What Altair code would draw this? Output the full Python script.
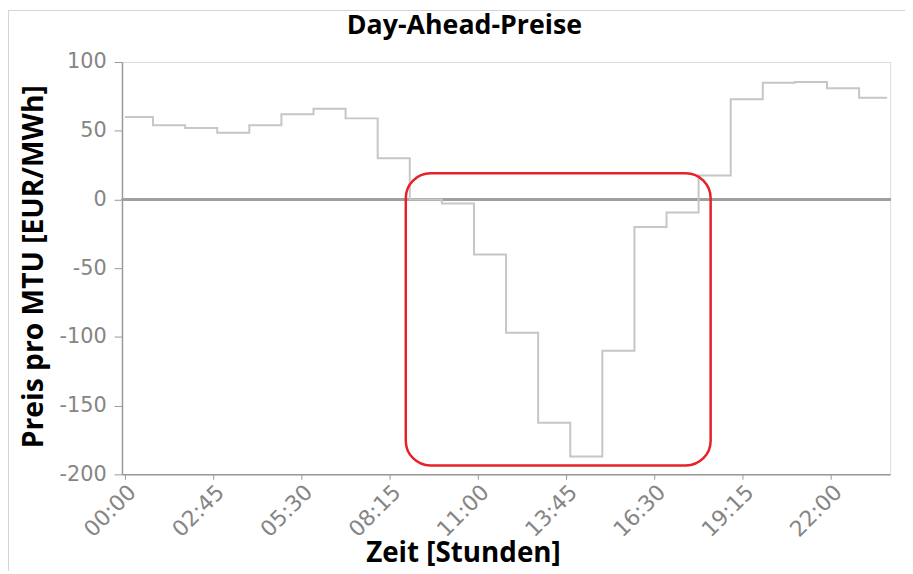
import altair as alt
import pandas as pd

# Hourly day-ahead prices (EUR/MWh), one value per hour 00..23
hourly_prices = [60, 54, 52, 48.5, 54, 62, 66, 59, 30, 0, -3, -40,
                 -97, -162.5, -187, -110, -20, -9.5, 17.5, 73, 85, 85.5, 81, 74]
# quarter-hour MTU labels
minutes = ["00", "15", "30", "45"]
times = [f"{h:02d}:{m}" for h in range(24) for m in minutes]
prices = [p for p in hourly_prices for _ in minutes]
tick_labels = ["00:00", "02:45", "05:30", "08:15", "11:00", "13:45", "16:30", "19:15", "22:00"]
y_ticks = [-200, -150, -100, -50, 0, 50, 100]

# highlight box (annotation)
box_x = ["08:45"]
box_x2 = ["18:15"]
box_top = [19]
box_bottom = [-193.5]

df = pd.DataFrame({"Zeit": times, "Preis": prices})
box_df = pd.DataFrame({"x": box_x, "x2": box_x2, "y": box_top, "y2": box_bottom})

label_font = "DejaVu Sans"
title_font = "Open Sans"

xscale = alt.Scale(type="point", domain=times, padding=0.37)
yscale = alt.Scale(domain=[-200, 100], nice=False, zero=False)

line = alt.Chart(df).mark_line(interpolate="step", color="#c6c6c6", strokeWidth=2).encode(
    x=alt.X("Zeit:O", scale=xscale, sort=times,
            axis=alt.Axis(values=tick_labels, labelAngle=-45, labelFont=label_font,
                          labelFontSize=22, labelColor="#858585", tickColor="#999999",
                          tickSize=5, domainColor="#999999", domainWidth=1.5, grid=False,
                          title="Zeit [Stunden]", titleFont=title_font, titleFontSize=28,
                          titleFontWeight="bold", titleColor="#000000",
                          titleX=344, titleY=88, titleBaseline="alphabetic")),
    y=alt.Y("Preis:Q", scale=yscale,
            axis=alt.Axis(values=y_ticks, labelExpr="toString(datum.value)",
                          labelFont=label_font, labelFontSize=21,
                          labelColor="#858585", tickColor="#999999", tickSize=8,
                          labelPadding=8, domainColor="#999999", domainWidth=1.5,
                          gridColor="#e2e2e2", gridWidth=1.5,
                          title="Preis pro MTU [EUR/MWh]", titleFont=title_font,
                          titleFontSize=28.5, titleFontWeight="bold", titleColor="#000000",
                          titleAngle=-90, titleX=-80, titleY=206,
                          titleBaseline="alphabetic")),
)

zero = alt.Chart(df).mark_rule(color="#9e9e9e", strokeWidth=1.5).encode(y=alt.datum(0))

box = alt.Chart(box_df).mark_rect(fill=None, stroke="#e8202a", strokeWidth=2.5,
                                  cornerRadius=25).encode(
    x=alt.X("x:O", scale=xscale), x2="x2:O",
    y=alt.Y("y:Q", scale=yscale), y2="y2:Q",
)

frame_top = alt.Chart(df).mark_rule(color="#d4d4d4", strokeWidth=1).encode(
    x=alt.value(-115), x2=alt.value(800), y=alt.value(-52))
frame_left = alt.Chart(df).mark_rule(color="#d4d4d4", strokeWidth=1).encode(
    x=alt.value(-115), y=alt.value(-52), y2=alt.value(520))

chart = alt.layer(zero, line, box, frame_top, frame_left).properties(
    width=775, height=416,
    title=alt.Title("Day-Ahead-Preise", font=title_font, fontSize=27, fontWeight="bold",
                    color="#000000", anchor="middle", dx=-42, offset=-51.5,
                    baseline="alphabetic"),
    autosize=alt.AutoSizeParams(type="none"),
    padding={"left": 115, "top": 52, "right": 15, "bottom": 95},
).configure_view(stroke=None).configure(background="white")

chart.save("out.html", embed_options={"renderer": "svg", "actions": False})
